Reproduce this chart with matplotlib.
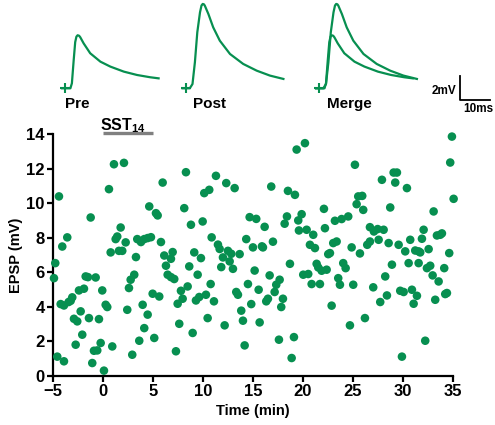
import numpy as np
import matplotlib
matplotlib.use("Agg")
import matplotlib.pyplot as plt

plt.rcParams['font.family'] = 'Liberation Sans'
plt.rcParams['mathtext.fontset'] = 'custom'
plt.rcParams['mathtext.rm'] = 'Liberation Sans'
plt.rcParams['mathtext.bf'] = 'Liberation Sans:bold'

green = '#078F50'

# EPSP amplitude over time (min, mV)
time_min = [-4.9, -4.77, -4.57, -4.4, -4.23, -4.07, -3.9, -3.9, -3.57, -3.43, -3.23, -3.07,
            -2.9, -2.73, -2.57, -2.4, -2.23, -2.07, -1.9, -1.73, -1.5, -1.4, -1.23, -1.07,
            -0.9, -0.73, -0.57, -0.4, -0.23, -0.07, 0.1, 0.27, 0.43, 0.6, 0.77, 0.93,
            1.1, 1.27, 1.43, 1.6, 1.77, 1.93, 2.1, 2.27, 2.43, 2.6, 2.77, 2.93,
            3.13, 3.3, 3.43, 3.63, 3.8, 3.97, 4.13, 4.13, 4.47, 4.47, 4.63, 4.8,
            4.97, 5.13, 5.3, 5.47, 5.63, 5.8, 5.97, 6.13, 6.3, 6.47, 6.8, 6.8,
            6.97, 7.13, 7.3, 7.47, 7.63, 7.8, 7.97, 8.13, 8.3, 8.47, 8.63, 8.8,
            8.97, 9.13, 9.3, 9.47, 9.63, 9.8, 9.97, 10.13, 10.3, 10.47, 10.63, 10.77,
            10.87, 11.1,
            11.3, 11.5, 11.67, 11.83, 12.0, 12.17, 12.33, 12.5, 12.67, 12.83, 13.0, 13.17,
            13.33, 13.5, 13.67, 13.83, 14.0, 14.17, 14.33, 14.5, 14.67, 14.83, 15.0, 15.17,
            15.33, 15.57, 15.67, 15.9, 16.0, 16.17, 16.33, 16.5, 16.67, 16.83, 17.0, 17.17,
            17.33, 17.6, 17.67, 17.83, 18.0, 18.17, 18.4, 18.5, 18.7, 18.87, 19.1, 19.2,
            19.37,
            19.53, 19.6, 19.87, 20.03, 20.2, 20.37, 20.53, 20.7, 20.87, 21.03, 21.2, 21.37,
            21.53, 21.7, 21.87, 22.1, 22.2, 22.37, 22.53, 22.7, 22.87, 23.03, 23.2, 23.37,
            23.53, 23.7, 23.87, 24.03, 24.27, 24.53, 24.7, 24.87, 25.03, 25.2, 25.37, 25.53,
            25.7, 25.93, 26.03, 26.2, 26.43, 26.7, 26.7, 27.03, 27.1, 27.47,
            27.57, 27.73, 27.9, 28.07, 28.23, 28.4, 28.57, 28.73, 28.9, 29.07, 29.23, 29.4,
            29.57, 29.73, 29.9, 30.07, 30.23, 30.4, 30.57, 30.73, 30.9, 31.07, 31.23, 31.4,
            31.57, 31.57, 31.73, 31.9, 32.07, 32.23, 32.4, 32.57, 32.73, 32.97, 33.07, 33.23,
            33.4, 33.57, 33.73, 33.9, 34.13, 34.23, 34.4, 34.63, 34.73, 34.9, 35.07]
epsp_mv = [5.66, 6.53, 1.12, 10.39, 4.16, 7.49, 4.08, 0.85, 8.02, 4.28, 4.35, 4.55,
           3.31, 1.81, 3.16, 4.95, 3.74, 2.39, 5.05, 5.76, 5.72, 3.35, 9.17, 0.75,
           1.46, 5.7, 1.48, 3.29, 1.91, 4.95, 0.31, 4.12, 3.99, 10.81, 7.15, 1.71,
           12.25, 7.92, 8.07, 7.24, 8.59, 7.24, 12.33, 7.73, 3.83, 5.09, 5.57, 1.23,
           5.86, 6.88, 7.92, 2.04, 7.75, 4.12, 7.92, 2.77, 7.98, 3.55, 9.81, 8.03,
           4.76, 2.2, 9.42, 9.29, 4.6, 7.75, 11.19, 6.97, 6.38, 5.86, 5.72, 6.78,
           7.17, 5.61, 1.43, 4.18, 3.02, 4.93, 4.47, 9.71, 11.79, 5.18, 6.34, 8.75,
           2.49, 7.15, 4.37, 5.86, 4.57, 6.82, 8.94, 10.58, 4.7, 3.35, 10.77, 5.32,
           8.02, 4.32,
           11.58, 7.6, 7.35, 6.3, 6.86, 2.93, 11.16, 7.24, 6.63, 7.07, 6.2, 10.87,
           4.86, 4.7, 7.05, 3.78, 3.2, 1.77, 7.92, 5.32, 9.19, 4.16, 7.44, 6.1,
           9.09, 4.99, 3.1, 7.5, 7.44, 8.63, 4.32, 4.47, 5.82, 10.96, 7.77, 4.86,
           5.28, 2.1, 5.57, 3.99, 4.47, 8.81, 9.23, 10.71, 6.49, 1.04, 2.25, 10.48,
           13.1,
           9.0, 8.42, 9.36, 5.86, 13.47, 8.46, 5.9, 7.59, 5.32, 8.17, 7.4, 6.49,
           6.28, 5.32, 6.09, 9.67, 8.55, 6.15, 7.05, 7.11, 4.07, 7.69, 8.98, 7.78,
           5.66, 5.28, 9.08, 6.53, 6.24, 9.23, 2.93, 7.44, 5.28, 12.22, 9.94, 10.39,
           7.09, 10.42, 9.61, 3.35, 7.59, 7.78, 8.61, 5.13, 8.36, 8.5,
           7.88, 4.28, 11.35, 8.46, 5.76, 4.66, 7.69, 9.75, 6.44, 11.77, 11.19, 11.77,
           7.59, 4.93, 1.12, 4.86, 7.21, 10.87, 6.53, 7.88, 4.99, 4.18, 7.26, 4.64,
           7.21, 6.53, 7.15, 7.94, 8.46, 2.04, 6.24, 7.34, 6.38, 5.82, 9.52, 4.41,
           8.13, 5.47, 8.17, 8.25, 6.24, 4.74, 4.8, 7.11, 12.35, 13.85, 10.25]

# drug application window (min)
sst_start, sst_end = 0, 5

# example traces (ms, mV)
pre_t = [0, 2.8, 3.3, 3.9, 4.4, 4.8, 5.2, 5.7, 6.1, 7.2, 9.4, 12.8, 16.1, 20.6, 25.0, 29.4, 32.2]
pre_v = [0, 0, 0.42, 2.36, 3.85, 4.3, 4.42, 4.38, 4.25, 3.75, 2.92, 2.22, 1.81, 1.39, 1.11, 0.92, 0.83]
post_t = [0, 2.4, 3.3, 4.1, 4.9, 5.8, 6.3, 6.7, 7.1, 7.4, 8.6, 10.2, 12.4, 15.8, 20.2, 24.7, 29.1, 33.6]
post_v = [0, 0, 0.36, 2.17, 4.67, 6.33, 6.9, 7.03, 7.0, 6.89, 6.19, 5.08, 3.97, 2.86, 2.03, 1.47, 1.06, 0.78]

fig = plt.figure(figsize=(4.95, 4.25), dpi=100)

# main scatter
ax = fig.add_axes([0.107, 0.1153, 0.808, 0.5694])
ax.scatter(time_min, epsp_mv, s=38, color=green, edgecolors='none', clip_on=False, zorder=3)
ax.set_xlim(-5, 35)
ax.set_ylim(0, 14)
ax.set_xticks(range(-5, 36, 5))
ax.set_yticks(range(0, 15, 2))
for s in ['top', 'right']:
    ax.spines[s].set_visible(False)
for s in ['left', 'bottom']:
    ax.spines[s].set_linewidth(1.6)
ax.tick_params(direction='out', length=4.5, width=1.6, labelsize=12, pad=1.5)
for lab in ax.get_xticklabels() + ax.get_yticklabels():
    lab.set_fontweight('bold')
ax.set_xlabel('Time (min)', fontsize=10.5, fontweight='bold')
ax.set_ylabel('EPSP (mV)', fontsize=10.5, fontweight='bold')
ax.xaxis.set_label_coords(0.5, -0.115)
ax.yaxis.set_label_coords(-0.075, 0.5)

# SST14 bar
ax.plot([sst_start, sst_end], [14.05, 14.05], color='#808080', lw=2.4,
        solid_capstyle='butt', clip_on=False)
ax.text(-0.3, 14.22, r'SST$_{\mathbf{14}}$', fontsize=11.5, fontweight='bold',
        ha='left', va='baseline')

# traces on top
tx = fig.add_axes([0, 1 - 115 / 425, 1, 115 / 425])
tx.set_xlim(-62 / 3, 433 / 3)
tx.set_ylim(-(115 - 88.3) / 12, 88.3 / 12)
tx.axis('off')

offsets = {'Pre': 0, 'Post': 40.2, 'Merge': 84.7}
label_x = {'Pre': 1.0, 'Post': 43.6, 'Merge': 88.2}
pre = np.array(pre_t)
post = np.array(post_t)
tx.plot(pre + offsets['Pre'], pre_v, color=green, lw=1.6)
tx.plot(post + offsets['Post'], post_v, color=green, lw=1.6)
tx.plot(pre + offsets['Merge'], pre_v, color=green, lw=1.6)
tx.plot(post + offsets['Merge'], post_v, color=green, lw=1.6)
for name, off in offsets.items():
    tx.plot(off + 1.1, 0, marker='+', ms=7, mew=1.5, color=green)
    tx.text(label_x[name], -1.31, name, fontsize=11, fontweight='bold', ha='left', va='center')

# scale bar 10 ms / 2 mV
tx.plot([132.5, 132.5, 142.5], [1.025, -0.975, -0.975], color='black', lw=1.3)
tx.text(131.3, -0.225, '2mV', fontsize=8.5, fontweight='bold', ha='right', va='center')
tx.text(138.7, -1.25, '10ms', fontsize=8.5, fontweight='bold', ha='center', va='top')

fig.savefig('out.png', dpi=100)
